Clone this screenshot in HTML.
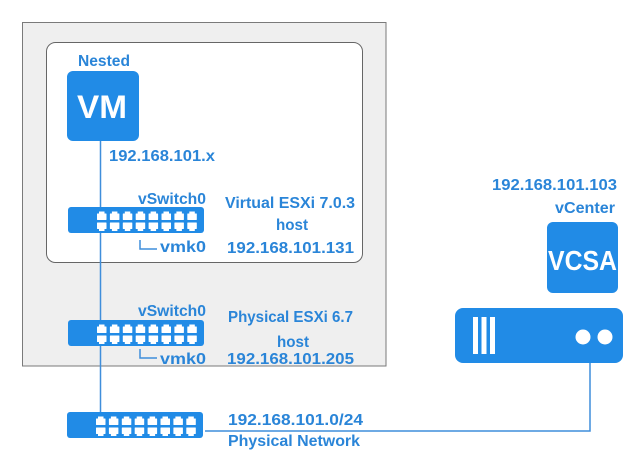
<!DOCTYPE html>
<html><head><meta charset="utf-8"><style>
html,body{margin:0;padding:0;background:#fff;}
svg{display:block;}
text{font-family:"Liberation Sans",Arial,sans-serif;font-weight:bold;fill:#2a85d8;font-size:15.5px;}
</style></head><body>
<svg width="639" height="460" viewBox="0 0 639 460" xmlns="http://www.w3.org/2000/svg">
<defs>
<g id="sw">
  <rect x="0" y="0" width="136" height="26" rx="3" fill="#218be6"/>
  <g fill="#fff">
    <g id="pc">
      <rect x="29" y="6.5" width="9.5" height="6.5" rx="0.5"/><rect x="31" y="4.5" width="5.5" height="3"/>
      <rect x="29" y="15.5" width="9.5" height="6.5" rx="0.5"/><rect x="31" y="21" width="5.5" height="3"/>
    </g>
    <use href="#pc" x="12.9"/><use href="#pc" x="25.8"/><use href="#pc" x="38.7"/>
    <use href="#pc" x="51.6"/><use href="#pc" x="64.5"/><use href="#pc" x="77.4"/><use href="#pc" x="90.3"/>
  </g>
</g>
</defs>
<!-- outer gray box -->
<rect x="22.5" y="22.5" width="363.5" height="343.5" fill="#efefef" stroke="#7a7a7a" stroke-width="1"/>
<!-- inner white box -->
<rect x="46.5" y="42.5" width="316" height="220" rx="9" fill="#fff" stroke="#666" stroke-width="1"/>

<!-- connectors -->
<line x1="100.5" y1="141" x2="100.5" y2="413" stroke="#3f8edb" stroke-width="1.5"/>
<polyline points="205,431 590,431 590,363" fill="none" stroke="#3f8edb" stroke-width="1.5"/>
<polyline points="140,240 140,249 157,249" fill="none" stroke="#3f8edb" stroke-width="1.5"/>
<polyline points="140,349 140,358 157,358" fill="none" stroke="#3f8edb" stroke-width="1.5"/>

<!-- VM -->
<rect x="67" y="71" width="72" height="70" rx="6" fill="#218be6"/>
<text x="77" y="118" style="font-size:32px;fill:#fff" textLength="50" lengthAdjust="spacingAndGlyphs">VM</text>
<text x="78" y="66" textLength="52" lengthAdjust="spacingAndGlyphs">Nested</text>
<text x="109" y="161" textLength="106" lengthAdjust="spacingAndGlyphs">192.168.101.x</text>

<!-- switches -->
<use href="#sw" x="68" y="207"/>
<use href="#sw" x="68" y="320"/>
<use href="#sw" x="67" y="412"/>

<text x="138" y="204" textLength="68" lengthAdjust="spacingAndGlyphs">vSwitch0</text>
<text x="160" y="252" textLength="46" lengthAdjust="spacingAndGlyphs">vmk0</text>
<text x="225" y="208" textLength="130" lengthAdjust="spacingAndGlyphs">Virtual ESXi 7.0.3</text>
<text x="276" y="230" textLength="32" lengthAdjust="spacingAndGlyphs">host</text>
<text x="227" y="253" textLength="127" lengthAdjust="spacingAndGlyphs">192.168.101.131</text>

<text x="138" y="316" textLength="68" lengthAdjust="spacingAndGlyphs">vSwitch0</text>
<text x="160" y="364" textLength="46" lengthAdjust="spacingAndGlyphs">vmk0</text>
<text x="228" y="322" textLength="125" lengthAdjust="spacingAndGlyphs">Physical ESXi 6.7</text>
<text x="277" y="347" textLength="32" lengthAdjust="spacingAndGlyphs">host</text>
<text x="227" y="364" textLength="127" lengthAdjust="spacingAndGlyphs">192.168.101.205</text>

<text x="228" y="425" textLength="135" lengthAdjust="spacingAndGlyphs">192.168.101.0/24</text>
<text x="228" y="446" textLength="132" lengthAdjust="spacingAndGlyphs">Physical Network</text>

<!-- vCenter -->
<text x="492" y="190" textLength="125" lengthAdjust="spacingAndGlyphs">192.168.101.103</text>
<text x="555" y="213" textLength="60" lengthAdjust="spacingAndGlyphs">vCenter</text>
<rect x="547" y="222" width="71" height="71" rx="6" fill="#218be6"/>
<text x="548" y="270" style="font-size:28px;fill:#fff" textLength="69" lengthAdjust="spacingAndGlyphs">VCSA</text>

<!-- server -->
<rect x="455" y="308" width="168" height="55" rx="8" fill="#218be6"/>
<rect x="473" y="317" width="5" height="37" fill="#fff"/>
<rect x="481.5" y="317" width="5" height="37" fill="#fff"/>
<rect x="490" y="317" width="5" height="37" fill="#fff"/>
<circle cx="583" cy="337" r="7.5" fill="#fff"/>
<circle cx="605" cy="337" r="7.5" fill="#fff"/>
</svg>
</body></html>
